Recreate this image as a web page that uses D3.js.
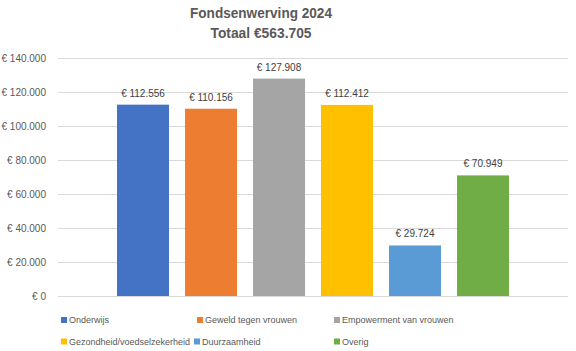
<!DOCTYPE html>
<html>
<head>
<meta charset="utf-8">
<script src="https://cdn.jsdelivr.net/npm/d3@7"></script>
<style>
  body { margin: 0; background: #fff; }
  svg { display: block; font-family: "Liberation Sans", Arial, sans-serif; }
</style>
</head>
<body>
<div id="chart"></div>
<script>
const series = ["Onderwijs", "Geweld tegen vrouwen", "Empowerment van vrouwen",
    "Gezondheid/voedselzekerheid", "Duurzaamheid", "Overig"];
const values = [112556, 110156, 127908, 112412, 29724, 70949];
const colors = ["#4472C4", "#ED7D31", "#A5A5A5", "#FFC000", "#5B9BD5", "#70AD47"];
const yTicks = [0, 20000, 40000, 60000, 80000, 100000, 120000, 140000];
const titleLines = ["Fondsenwerving 2024", "Totaal €563.705"];

const width = 576,
    height = 351,
    margin = ({ top: 58, right: 8, bottom: 55, left: 58 });

const nl = d3.formatLocale({ decimal: ",", thousands: ".", grouping: [3], currency: ["€ ", ""] });
const fmt = nl.format("$,");

const svg = d3.select("#chart")
    .append("svg")
    .attr("width", width)
    .attr("height", height);

// one category, six series side by side
const x0 = d3.scaleBand(["2024"], [margin.left, width - margin.right])
    .paddingOuter(0.125);
const x = d3.scaleBand(series, [0, x0.bandwidth()])
    .paddingInner(0.235)
    .paddingOuter(0.1175);

const y = d3.scaleLinear([0, 140000], [height - margin.bottom, margin.top]);

// gridlines + labels
const yAxis = svg.append("g")
    .attr("transform", `translate(${margin.left},0)`)
    .call(d3.axisLeft(y).tickValues(yTicks).tickFormat(fmt)
        .tickSize(-(width - margin.left - margin.right)).tickPadding(12));
yAxis.select(".domain").remove();
yAxis.selectAll(".tick line").attr("stroke", "#d9d9d9");
yAxis.selectAll(".tick text")
    .attr("fill", "#595959")
    .style("font-size", "10px");

svg.append("g")
    .selectAll("rect")
    .data(values)
    .join("rect")
    .attr("x", (d, i) => x0("2024") + x(series[i]))
    .attr("y", d => y(d))
    .attr("width", x.bandwidth())
    .attr("height", d => y(0) - y(d))
    .attr("fill", (d, i) => colors[i]);

svg.append("g")
    .selectAll("text")
    .data(values)
    .join("text")
    .attr("x", (d, i) => x0("2024") + x(series[i]) + x.bandwidth() / 2)
    .attr("y", d => y(d) - 8)
    .attr("text-anchor", "middle")
    .attr("fill", "#404040")
    .style("font-size", "10px")
    .text(d => fmt(d));

// calibri is narrower, so squeeze a slightly bigger font
const titleWidth = [142, 101];
svg.append("g")
    .selectAll("text")
    .data(titleLines)
    .join("text")
    .attr("x", 261)
    .attr("y", (d, i) => 18 + i * 20)
    .attr("text-anchor", "middle")
    .attr("textLength", (d, i) => titleWidth[i])
    .attr("lengthAdjust", "spacingAndGlyphs")
    .attr("fill", "#595959")
    .style("font-size", "15.5px")
    .style("font-weight", "bold")
    .text(d => d);

// legend, two rows like Excel lays it out
const legendX = [61, 197, 334, 61, 194, 334];
const legendY = [320, 320, 320, 341.5, 341.5, 341.5];
const legend = svg.append("g")
    .selectAll("g")
    .data(series)
    .join("g")
    .attr("transform", (d, i) => `translate(${legendX[i]},${legendY[i]})`);
legend.append("rect")
    .attr("y", -3)
    .attr("width", 6)
    .attr("height", 6)
    .attr("fill", (d, i) => colors[i]);
legend.append("text")
    .attr("x", 8)
    .attr("dy", "0.35em")
    .attr("fill", "#595959")
    .style("font-size", "9px")
    .text(d => d);
</script>
</body>
</html>
